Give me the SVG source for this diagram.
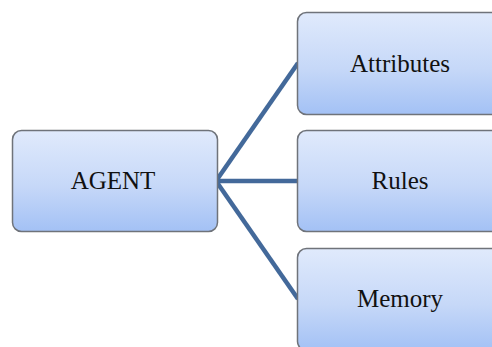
<svg xmlns="http://www.w3.org/2000/svg" width="492" height="347" viewBox="0 0 492 347">
<style>
.box{fill:url(#g);stroke:#6f737a;stroke-width:1.5}
.lbl{font-family:"Liberation Serif","Times New Roman",serif;font-size:25px;fill:#111;text-anchor:middle}
.conn{stroke:#43699a;stroke-width:4.5;fill:none;stroke-linecap:butt}
</style>
<defs>
<linearGradient id="g" x1="0" y1="0" x2="0" y2="1">
<stop offset="0" stop-color="#e0eafc"/>
<stop offset="0.55" stop-color="#c6d8f8"/>
<stop offset="1" stop-color="#a3c1f5"/>
</linearGradient>
</defs>
<rect width="492" height="347" fill="#fff"/>
<g id="connectors">
<line class="conn" x1="216" y1="181" x2="298" y2="63"/>
<line class="conn" x1="216" y1="181" x2="298" y2="181"/>
<line class="conn" x1="216" y1="181" x2="298" y2="299"/>
</g>
<g id="agent">
<rect class="box" x="12.5" y="130.5" width="205" height="101" rx="9"/>
<text class="lbl" x="113" y="189">AGENT</text>
</g>
<g id="attributes">
<rect class="box" x="297.5" y="12.5" width="205" height="102" rx="9"/>
<text class="lbl" x="400" y="72">Attributes</text>
</g>
<g id="rules">
<rect class="box" x="297.5" y="130.5" width="205" height="101" rx="9"/>
<text class="lbl" x="400" y="189">Rules</text>
</g>
<g id="memory">
<rect class="box" x="297.5" y="248.5" width="205" height="102" rx="9"/>
<text class="lbl" x="400" y="307">Memory</text>
</g>
</svg>
